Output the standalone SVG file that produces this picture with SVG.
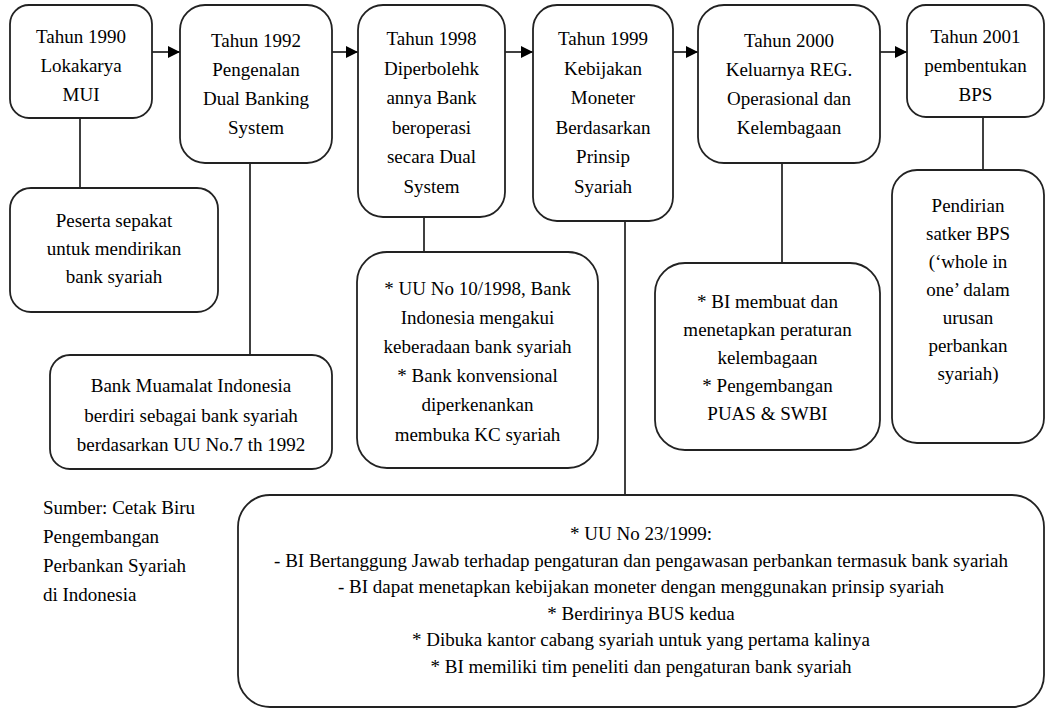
<svg xmlns="http://www.w3.org/2000/svg" width="1046" height="709" viewBox="0 0 1046 709">
<style>
  .box { fill: #ffffff; stroke: #222222; stroke-width: 1.8; }
  text { font-family: 'Liberation Serif', 'DejaVu Serif', 'Times New Roman', Times, serif; font-size: 19px; fill: #000000; }
  .t { text-anchor: middle; }
  .ts { text-anchor: start; }
  .conn { stroke: #000000; stroke-width: 1.5; fill: none; }
</style>
<defs>
  <marker id="arrow" markerWidth="12" markerHeight="12" refX="12" refY="6" orient="auto" markerUnits="userSpaceOnUse">
    <path d="M0,0 L12,6 L0,12 Z" fill="#000000"/>
  </marker>
</defs>
<rect width="1046" height="709" fill="#ffffff"/>

<g id="connectors">
  <line class="conn" x1="152" y1="52" x2="180" y2="52" marker-end="url(#arrow)"/>
  <line class="conn" x1="332" y1="52" x2="358" y2="52" marker-end="url(#arrow)"/>
  <line class="conn" x1="505" y1="52" x2="533" y2="52" marker-end="url(#arrow)"/>
  <line class="conn" x1="673" y1="52" x2="698" y2="52" marker-end="url(#arrow)"/>
  <line class="conn" x1="880" y1="52" x2="907" y2="52" marker-end="url(#arrow)"/>
  <line class="conn" x1="80" y1="118" x2="80" y2="188"/>
  <line class="conn" x1="250" y1="163" x2="250" y2="355"/>
  <line class="conn" x1="424" y1="217" x2="424" y2="252"/>
  <line class="conn" x1="625" y1="221" x2="625" y2="495"/>
  <line class="conn" x1="782" y1="163" x2="782" y2="263"/>
  <line class="conn" x1="983" y1="117" x2="983" y2="170"/>
</g>

<g id="node-1990" font-family="Liberation Serif, serif">
  <rect class="box" x="10" y="5" width="142" height="113" rx="19"/>
  <text class="t" x="81" y="43">Tahun 1990</text>
  <text class="t" x="81" y="72">Lokakarya</text>
  <text class="t" x="81" y="101">MUI</text>
</g>

<g id="node-1992">
  <rect class="box" x="180" y="5" width="152" height="158" rx="25"/>
  <text class="t" x="256" y="47">Tahun 1992</text>
  <text class="t" x="256" y="76">Pengenalan</text>
  <text class="t" x="256" y="105">Dual Banking</text>
  <text class="t" x="256" y="134">System</text>
</g>

<g id="node-1998">
  <rect class="box" x="358" y="5" width="147" height="212" rx="25"/>
  <text class="t" x="431.5" y="45">Tahun 1998</text>
  <text class="t" x="431.5" y="74.5">Diperbolehk</text>
  <text class="t" x="431.5" y="104">annya Bank</text>
  <text class="t" x="431.5" y="133.5">beroperasi</text>
  <text class="t" x="431.5" y="163">secara Dual</text>
  <text class="t" x="431.5" y="192.5">System</text>
</g>

<g id="node-1999">
  <rect class="box" x="533" y="5" width="140" height="216" rx="24"/>
  <text class="t" x="603" y="45">Tahun 1999</text>
  <text class="t" x="603" y="74.5">Kebijakan</text>
  <text class="t" x="603" y="104">Moneter</text>
  <text class="t" x="603" y="133.5">Berdasarkan</text>
  <text class="t" x="603" y="163">Prinsip</text>
  <text class="t" x="603" y="192.5">Syariah</text>
</g>

<g id="node-2000">
  <rect class="box" x="698" y="5" width="182" height="158" rx="26"/>
  <text class="t" x="789" y="47">Tahun 2000</text>
  <text class="t" x="789" y="76">Keluarnya REG.</text>
  <text class="t" x="789" y="105">Operasional dan</text>
  <text class="t" x="789" y="134">Kelembagaan</text>
</g>

<g id="node-2001">
  <rect class="box" x="907" y="5" width="137" height="112" rx="19"/>
  <text class="t" x="975.5" y="43">Tahun 2001</text>
  <text class="t" x="975.5" y="72">pembentukan</text>
  <text class="t" x="975.5" y="101">BPS</text>
</g>

<g id="node-peserta">
  <rect class="box" x="10" y="188" width="208" height="124" rx="21"/>
  <text class="t" x="114" y="227">Peserta sepakat</text>
  <text class="t" x="114" y="255">untuk mendirikan</text>
  <text class="t" x="114" y="283">bank syariah</text>
</g>

<g id="node-muamalat">
  <rect class="box" x="50" y="355" width="282" height="114" rx="20"/>
  <text class="t" x="191" y="392">Bank Muamalat Indonesia</text>
  <text class="t" x="191" y="421.5">berdiri sebagai bank syariah</text>
  <text class="t" x="191" y="451">berdasarkan UU No.7 th 1992</text>
</g>

<g id="node-uu10">
  <rect class="box" x="357" y="252" width="241" height="216" rx="30"/>
  <text class="t" x="477.5" y="295">* UU No 10/1998, Bank</text>
  <text class="t" x="477.5" y="324">Indonesia mengakui</text>
  <text class="t" x="477.5" y="353">keberadaan bank syariah</text>
  <text class="t" x="477.5" y="382">* Bank konvensional</text>
  <text class="t" x="477.5" y="411">diperkenankan</text>
  <text class="t" x="477.5" y="441">membuka KC syariah</text>
</g>

<g id="node-bi">
  <rect class="box" x="655" y="263" width="225" height="187" rx="30"/>
  <text class="t" x="767.5" y="308">* BI  membuat dan</text>
  <text class="t" x="767.5" y="336">menetapkan peraturan</text>
  <text class="t" x="767.5" y="364">kelembagaan</text>
  <text class="t" x="767.5" y="392">* Pengembangan</text>
  <text class="t" x="767.5" y="420">PUAS &amp; SWBI</text>
</g>

<g id="node-pendirian">
  <rect class="box" x="892" y="170" width="152" height="273" rx="25"/>
  <text class="t" x="968" y="212">Pendirian</text>
  <text class="t" x="968" y="240">satker BPS</text>
  <text class="t" x="968" y="268">(‘whole in</text>
  <text class="t" x="968" y="296">one’ dalam</text>
  <text class="t" x="968" y="324">urusan</text>
  <text class="t" x="968" y="352">perbankan</text>
  <text class="t" x="968" y="380">syariah)</text>
</g>

<g id="node-uu23">
  <rect class="box" x="238" y="495" width="806" height="212" rx="32"/>
  <text class="t" x="641" y="540">* UU No 23/1999:</text>
  <text class="t" x="641" y="566.5">- BI Bertanggung Jawab terhadap pengaturan dan pengawasan perbankan termasuk bank syariah</text>
  <text class="t" x="641" y="593">- BI dapat menetapkan kebijakan moneter dengan menggunakan prinsip syariah</text>
  <text class="t" x="641" y="619.5">* Berdirinya BUS kedua</text>
  <text class="t" x="641" y="646">* Dibuka kantor cabang syariah untuk yang pertama kalinya</text>
  <text class="t" x="641" y="672.5">* BI  memiliki tim peneliti dan pengaturan bank syariah</text>
</g>

<g id="source">
  <text class="ts" x="43" y="514">Sumber: Cetak Biru</text>
  <text class="ts" x="43" y="543">Pengembangan</text>
  <text class="ts" x="43" y="572">Perbankan Syariah</text>
  <text class="ts" x="43" y="601">di Indonesia</text>
</g>
</svg>
